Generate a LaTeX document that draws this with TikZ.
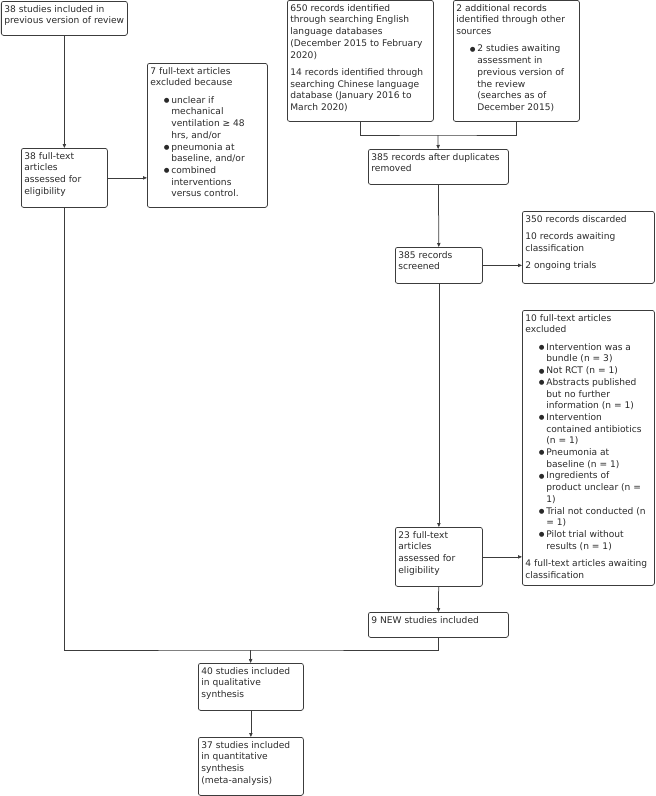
\documentclass[tikz,border=0pt]{standalone}
\usepackage{fontspec}
\setmainfont{DejaVu Sans}
\usepackage{xcolor}
\usetikzlibrary{arrows.meta, positioning}

\definecolor{linec}{HTML}{3C3C3C}
\definecolor{txtc}{HTML}{2A2A2A}

% box content: width, height (pt), text
\newcommand{\boxtxt}[3]{%
  \begin{minipage}[t][\dimexpr#2pt-8pt\relax][t]{\dimexpr#1pt-6pt\relax}%
  \fontsize{9.1}{11.7}\selectfont#3\end{minipage}}
\newcommand{\pgap}{\par\vspace{5.6pt}}
\newcommand{\pitem}[1]{\par\hangindent=21pt\hangafter=0\noindent
  \llap{{\fontsize{6.5}{6.5}\selectfont\raisebox{0.6pt}{●}}\hspace{1.8pt}}#1\par}

\begin{document}
\begin{tikzpicture}[x=1pt, y=-1pt, >={Triangle[length=4pt,width=3.4pt]},
  pbox/.style={draw=linec, line width=0.75pt, rounded corners=2.2pt,
    inner xsep=3pt, inner ysep=4pt, anchor=north west, text=txtc},
  conn/.style={draw=linec, line width=0.75pt}]
  \useasboundingbox (0,0) rectangle (656,796);

  % left branch: previous review
  \node[pbox] (prev) at (1,1) {\boxtxt{126}{34}{38 studies included in\\previous version of review}};
  \node[pbox] (oldft) at (21,148) {\boxtxt{86}{59}{38 full-text\\articles\\assessed for\\eligibility}};
  \node[pbox] (oldexcl) at (147,63) {\boxtxt{120}{144}{7 full-text articles\\excluded because\pgap
    \pitem{unclear if\\mechanical\\ventilation ≥ 48\\hrs, and/or}
    \pitem{pneumonia at\\baseline, and/or}
    \pitem{combined\\interventions\\versus control.}}};

  % right branch: update searches
  \node[pbox] (search) at (287,0) {\boxtxt{146}{121}{650 records identified\\through searching English\\language databases\\(December 2015 to February\\2020)\pgap
    14 records identified through\\searching Chinese language\\database (January 2016 to\\March 2020)}};
  \node[pbox] (other) at (453,0) {\boxtxt{126}{121}{2 additional records\\identified through other\\sources\pgap
    \pitem{2 studies awaiting\\assessment in\\previous version of\\the review\\(searches as of\\December 2015)}}};
  \node[pbox] (dedup) at (368,149) {\boxtxt{140}{35}{385 records after duplicates\\removed}};
  \node[pbox] (screen) at (395,247) {\boxtxt{87}{36}{385 records\\screened}};
  \node[pbox] (discard) at (522,211) {\boxtxt{132}{72}{350 records discarded\pgap
    10 records awaiting\\classification\pgap
    2 ongoing trials}};
  \node[pbox] (newft) at (395,527) {\boxtxt{87}{59}{23 full-text\\articles\\assessed for\\eligibility}};
  \node[pbox] (newexcl) at (522,310) {\boxtxt{132}{275}{10 full-text articles\\excluded\pgap
    \pitem{Intervention was a\\bundle (n = 3)}
    \pitem{Not RCT (n = 1)}
    \pitem{Abstracts published\\but no further\\information (n = 1)}
    \pitem{Intervention\\contained antibiotics\\(n = 1)}
    \pitem{Pneumonia at\\baseline (n = 1)}
    \pitem{Ingredients of\\product unclear (n =\\1)}
    \pitem{Trial not conducted (n\\= 1)}
    \pitem{Pilot trial without\\results (n = 1)}\vspace{5.6pt}
    4 full-text articles awaiting\\classification}};
  \node[pbox] (newinc) at (368,612) {\boxtxt{140}{25}{9 NEW studies included}};

  % combined
  \node[pbox] (qual) at (198,663) {\boxtxt{105}{47}{40 studies included\\in qualitative\\synthesis}};
  \node[pbox] (quant) at (198,737) {\boxtxt{105}{58}{37 studies included\\in quantitative\\synthesis\\(meta-analysis)}};

  \coordinate (jn1) at (438,135);
  \coordinate (jn2) at (250.5,650);

  \draw[conn,->] (prev) -- (oldft);
  \draw[conn,->] (oldft) -- (oldft -| oldexcl.west);
  \draw[conn] (search) |- (jn1) -| (other);
  \draw[conn,->] (jn1) -- (dedup);
  \draw[conn,->] (dedup) -- (screen);
  \draw[conn,->] (screen) -- (screen -| discard.west);
  \draw[conn,->] (screen) -- (newft);
  \draw[conn,->] (newft) -- (newft -| newexcl.west);
  \draw[conn,->] (newft) -- (newinc);
  \draw[conn] (oldft) |- (jn2) -| (newinc);
  \draw[conn,->] (jn2) -- (qual);
  \draw[conn,->] (qual) -- (quant);
\end{tikzpicture}
\end{document}
